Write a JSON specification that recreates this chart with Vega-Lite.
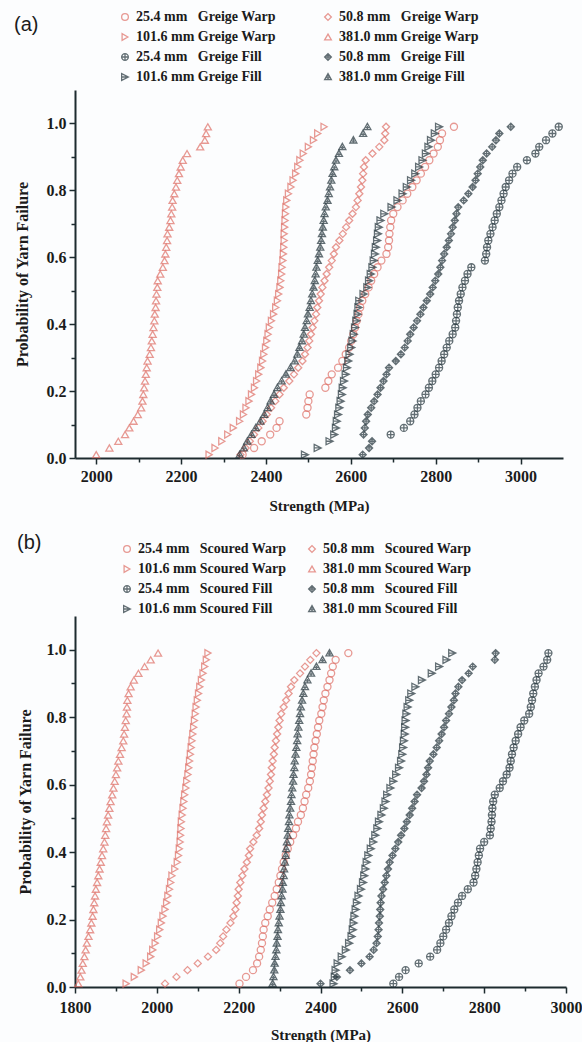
{
"$schema": "https://vega.github.io/schema/vega-lite/v6.json",
"background": "#fcfdfe",
"padding": {"left": 14, "top": 10, "right": 0, "bottom": 0},
"spacing": 20,
"resolve": {"scale": {"color": "independent", "shape": "independent"}, "legend": {"color": "independent", "shape": "independent"}},
"config": {
  "view": {"stroke": null},
  "axis": {"grid": false, "labelFlush": false, "domainColor": "#1d2b2f", "domainWidth": 2, "tickColor": "#1d2b2f", "tickWidth": 1.5, "labelFont": "Liberation Serif", "labelFontWeight": "bold", "labelFontSize": 16, "labelColor": "#1b1b1b", "titleFont": "Liberation Serif", "titleFontWeight": "bold", "titleFontSize": 15, "titleColor": "#1b1b1b"},
  "title": {"font": "Liberation Sans", "fontSize": 20, "fontWeight": "normal", "color": "#1b1b1b", "anchor": "start", "frame": "bounds"}
},
"datasets": {
"greige": [
{"s":"W381","mpa":2000,"p":0.01},{"s":"W381","mpa":2031,"p":0.03},{"s":"W381","mpa":2052,"p":0.05},{"s":"W381","mpa":2068,"p":0.07},{"s":"W381","mpa":2078,"p":0.09},{"s":"W381","mpa":2088,"p":0.11},{"s":"W381","mpa":2098,"p":0.13},{"s":"W381","mpa":2106,"p":0.15},{"s":"W381","mpa":2109,"p":0.17},{"s":"W381","mpa":2111,"p":0.19},{"s":"W381","mpa":2113,"p":0.21},{"s":"W381","mpa":2115,"p":0.23},{"s":"W381","mpa":2117,"p":0.25},{"s":"W381","mpa":2119,"p":0.27},{"s":"W381","mpa":2121,"p":0.29},{"s":"W381","mpa":2126,"p":0.31},{"s":"W381","mpa":2129,"p":0.33},{"s":"W381","mpa":2131,"p":0.35},{"s":"W381","mpa":2133,"p":0.37},{"s":"W381","mpa":2135,"p":0.39},{"s":"W381","mpa":2137,"p":0.41},{"s":"W381","mpa":2138,"p":0.43},{"s":"W381","mpa":2140,"p":0.45},{"s":"W381","mpa":2141,"p":0.47},{"s":"W381","mpa":2142,"p":0.49},{"s":"W381","mpa":2144,"p":0.51},{"s":"W381","mpa":2145,"p":0.53},{"s":"W381","mpa":2151,"p":0.55},{"s":"W381","mpa":2157,"p":0.57},{"s":"W381","mpa":2161,"p":0.59},{"s":"W381","mpa":2163,"p":0.61},{"s":"W381","mpa":2165,"p":0.63},{"s":"W381","mpa":2167,"p":0.65},{"s":"W381","mpa":2168,"p":0.67},{"s":"W381","mpa":2172,"p":0.69},{"s":"W381","mpa":2175,"p":0.71},{"s":"W381","mpa":2177,"p":0.73},{"s":"W381","mpa":2179,"p":0.75},{"s":"W381","mpa":2180,"p":0.77},{"s":"W381","mpa":2184,"p":0.79},{"s":"W381","mpa":2188,"p":0.81},{"s":"W381","mpa":2191,"p":0.83},{"s":"W381","mpa":2195,"p":0.85},{"s":"W381","mpa":2199,"p":0.87},{"s":"W381","mpa":2204,"p":0.89},{"s":"W381","mpa":2214,"p":0.91},{"s":"W381","mpa":2245,"p":0.93},{"s":"W381","mpa":2256,"p":0.95},{"s":"W381","mpa":2259,"p":0.97},{"s":"W381","mpa":2263,"p":0.99},
{"s":"W101","mpa":2266,"p":0.01},{"s":"W101","mpa":2280,"p":0.03},{"s":"W101","mpa":2296,"p":0.05},{"s":"W101","mpa":2310,"p":0.07},{"s":"W101","mpa":2323,"p":0.09},{"s":"W101","mpa":2338,"p":0.11},{"s":"W101","mpa":2347,"p":0.13},{"s":"W101","mpa":2353,"p":0.15},{"s":"W101","mpa":2360,"p":0.17},{"s":"W101","mpa":2366,"p":0.19},{"s":"W101","mpa":2373,"p":0.21},{"s":"W101","mpa":2378,"p":0.23},{"s":"W101","mpa":2383,"p":0.25},{"s":"W101","mpa":2388,"p":0.27},{"s":"W101","mpa":2392,"p":0.29},{"s":"W101","mpa":2395,"p":0.31},{"s":"W101","mpa":2399,"p":0.33},{"s":"W101","mpa":2402,"p":0.35},{"s":"W101","mpa":2405,"p":0.37},{"s":"W101","mpa":2408,"p":0.39},{"s":"W101","mpa":2413,"p":0.41},{"s":"W101","mpa":2418,"p":0.43},{"s":"W101","mpa":2423,"p":0.45},{"s":"W101","mpa":2427,"p":0.47},{"s":"W101","mpa":2430,"p":0.49},{"s":"W101","mpa":2433,"p":0.51},{"s":"W101","mpa":2435,"p":0.53},{"s":"W101","mpa":2437,"p":0.55},{"s":"W101","mpa":2438,"p":0.57},{"s":"W101","mpa":2440,"p":0.59},{"s":"W101","mpa":2441,"p":0.61},{"s":"W101","mpa":2442,"p":0.63},{"s":"W101","mpa":2443,"p":0.65},{"s":"W101","mpa":2443,"p":0.67},{"s":"W101","mpa":2444,"p":0.69},{"s":"W101","mpa":2445,"p":0.71},{"s":"W101","mpa":2446,"p":0.73},{"s":"W101","mpa":2447,"p":0.75},{"s":"W101","mpa":2449,"p":0.77},{"s":"W101","mpa":2453,"p":0.79},{"s":"W101","mpa":2459,"p":0.81},{"s":"W101","mpa":2464,"p":0.83},{"s":"W101","mpa":2470,"p":0.85},{"s":"W101","mpa":2475,"p":0.87},{"s":"W101","mpa":2480,"p":0.89},{"s":"W101","mpa":2488,"p":0.91},{"s":"W101","mpa":2500,"p":0.93},{"s":"W101","mpa":2512,"p":0.95},{"s":"W101","mpa":2522,"p":0.97},{"s":"W101","mpa":2537,"p":0.99},
{"s":"W50","mpa":2340,"p":0.01},{"s":"W50","mpa":2352,"p":0.03},{"s":"W50","mpa":2362,"p":0.05},{"s":"W50","mpa":2372,"p":0.07},{"s":"W50","mpa":2382,"p":0.09},{"s":"W50","mpa":2392,"p":0.11},{"s":"W50","mpa":2402,"p":0.13},{"s":"W50","mpa":2412,"p":0.15},{"s":"W50","mpa":2422,"p":0.17},{"s":"W50","mpa":2432,"p":0.19},{"s":"W50","mpa":2442,"p":0.21},{"s":"W50","mpa":2455,"p":0.23},{"s":"W50","mpa":2466,"p":0.25},{"s":"W50","mpa":2476,"p":0.27},{"s":"W50","mpa":2486,"p":0.29},{"s":"W50","mpa":2492,"p":0.31},{"s":"W50","mpa":2498,"p":0.33},{"s":"W50","mpa":2502,"p":0.35},{"s":"W50","mpa":2506,"p":0.37},{"s":"W50","mpa":2510,"p":0.39},{"s":"W50","mpa":2514,"p":0.41},{"s":"W50","mpa":2518,"p":0.43},{"s":"W50","mpa":2521,"p":0.45},{"s":"W50","mpa":2525,"p":0.47},{"s":"W50","mpa":2529,"p":0.49},{"s":"W50","mpa":2533,"p":0.51},{"s":"W50","mpa":2538,"p":0.53},{"s":"W50","mpa":2543,"p":0.55},{"s":"W50","mpa":2549,"p":0.57},{"s":"W50","mpa":2555,"p":0.59},{"s":"W50","mpa":2560,"p":0.61},{"s":"W50","mpa":2565,"p":0.63},{"s":"W50","mpa":2573,"p":0.65},{"s":"W50","mpa":2581,"p":0.67},{"s":"W50","mpa":2589,"p":0.69},{"s":"W50","mpa":2596,"p":0.71},{"s":"W50","mpa":2604,"p":0.73},{"s":"W50","mpa":2612,"p":0.75},{"s":"W50","mpa":2616,"p":0.77},{"s":"W50","mpa":2620,"p":0.79},{"s":"W50","mpa":2624,"p":0.81},{"s":"W50","mpa":2627,"p":0.83},{"s":"W50","mpa":2629,"p":0.85},{"s":"W50","mpa":2631,"p":0.87},{"s":"W50","mpa":2635,"p":0.89},{"s":"W50","mpa":2651,"p":0.91},{"s":"W50","mpa":2667,"p":0.93},{"s":"W50","mpa":2679,"p":0.95},{"s":"W50","mpa":2681,"p":0.97},{"s":"W50","mpa":2683,"p":0.99},
{"s":"W25","mpa":2345,"p":0.01},{"s":"W25","mpa":2372,"p":0.03},{"s":"W25","mpa":2390,"p":0.05},{"s":"W25","mpa":2410,"p":0.07},{"s":"W25","mpa":2425,"p":0.09},{"s":"W25","mpa":2432,"p":0.11},{"s":"W25","mpa":2495,"p":0.13},{"s":"W25","mpa":2498,"p":0.15},{"s":"W25","mpa":2500,"p":0.17},{"s":"W25","mpa":2503,"p":0.19},{"s":"W25","mpa":2540,"p":0.21},{"s":"W25","mpa":2547,"p":0.23},{"s":"W25","mpa":2555,"p":0.25},{"s":"W25","mpa":2570,"p":0.27},{"s":"W25","mpa":2580,"p":0.29},{"s":"W25","mpa":2588,"p":0.31},{"s":"W25","mpa":2596,"p":0.33},{"s":"W25","mpa":2601,"p":0.35},{"s":"W25","mpa":2606,"p":0.37},{"s":"W25","mpa":2610,"p":0.39},{"s":"W25","mpa":2614,"p":0.41},{"s":"W25","mpa":2618,"p":0.43},{"s":"W25","mpa":2622,"p":0.45},{"s":"W25","mpa":2627,"p":0.47},{"s":"W25","mpa":2634,"p":0.49},{"s":"W25","mpa":2642,"p":0.51},{"s":"W25","mpa":2648,"p":0.53},{"s":"W25","mpa":2655,"p":0.55},{"s":"W25","mpa":2663,"p":0.57},{"s":"W25","mpa":2672,"p":0.59},{"s":"W25","mpa":2684,"p":0.61},{"s":"W25","mpa":2688,"p":0.63},{"s":"W25","mpa":2690,"p":0.65},{"s":"W25","mpa":2691,"p":0.67},{"s":"W25","mpa":2693,"p":0.69},{"s":"W25","mpa":2695,"p":0.71},{"s":"W25","mpa":2700,"p":0.73},{"s":"W25","mpa":2710,"p":0.75},{"s":"W25","mpa":2722,"p":0.77},{"s":"W25","mpa":2733,"p":0.79},{"s":"W25","mpa":2745,"p":0.81},{"s":"W25","mpa":2755,"p":0.83},{"s":"W25","mpa":2765,"p":0.85},{"s":"W25","mpa":2775,"p":0.87},{"s":"W25","mpa":2785,"p":0.89},{"s":"W25","mpa":2795,"p":0.91},{"s":"W25","mpa":2805,"p":0.93},{"s":"W25","mpa":2810,"p":0.95},{"s":"W25","mpa":2815,"p":0.97},{"s":"W25","mpa":2843,"p":0.99},
{"s":"F381","mpa":2338,"p":0.01},{"s":"F381","mpa":2348,"p":0.03},{"s":"F381","mpa":2356,"p":0.05},{"s":"F381","mpa":2366,"p":0.07},{"s":"F381","mpa":2376,"p":0.09},{"s":"F381","mpa":2387,"p":0.11},{"s":"F381","mpa":2396,"p":0.13},{"s":"F381","mpa":2404,"p":0.15},{"s":"F381","mpa":2411,"p":0.17},{"s":"F381","mpa":2419,"p":0.19},{"s":"F381","mpa":2427,"p":0.21},{"s":"F381","mpa":2437,"p":0.23},{"s":"F381","mpa":2447,"p":0.25},{"s":"F381","mpa":2458,"p":0.27},{"s":"F381","mpa":2468,"p":0.29},{"s":"F381","mpa":2474,"p":0.31},{"s":"F381","mpa":2479,"p":0.33},{"s":"F381","mpa":2485,"p":0.35},{"s":"F381","mpa":2489,"p":0.37},{"s":"F381","mpa":2492,"p":0.39},{"s":"F381","mpa":2496,"p":0.41},{"s":"F381","mpa":2499,"p":0.43},{"s":"F381","mpa":2503,"p":0.45},{"s":"F381","mpa":2506,"p":0.47},{"s":"F381","mpa":2509,"p":0.49},{"s":"F381","mpa":2512,"p":0.51},{"s":"F381","mpa":2515,"p":0.53},{"s":"F381","mpa":2517,"p":0.55},{"s":"F381","mpa":2519,"p":0.57},{"s":"F381","mpa":2522,"p":0.59},{"s":"F381","mpa":2525,"p":0.61},{"s":"F381","mpa":2528,"p":0.63},{"s":"F381","mpa":2530,"p":0.65},{"s":"F381","mpa":2532,"p":0.67},{"s":"F381","mpa":2534,"p":0.69},{"s":"F381","mpa":2536,"p":0.71},{"s":"F381","mpa":2538,"p":0.73},{"s":"F381","mpa":2541,"p":0.75},{"s":"F381","mpa":2545,"p":0.77},{"s":"F381","mpa":2548,"p":0.79},{"s":"F381","mpa":2551,"p":0.81},{"s":"F381","mpa":2554,"p":0.83},{"s":"F381","mpa":2557,"p":0.85},{"s":"F381","mpa":2561,"p":0.87},{"s":"F381","mpa":2565,"p":0.89},{"s":"F381","mpa":2572,"p":0.91},{"s":"F381","mpa":2580,"p":0.93},{"s":"F381","mpa":2606,"p":0.95},{"s":"F381","mpa":2629,"p":0.97},{"s":"F381","mpa":2639,"p":0.99},
{"s":"F101","mpa":2492,"p":0.01},{"s":"F101","mpa":2522,"p":0.03},{"s":"F101","mpa":2550,"p":0.05},{"s":"F101","mpa":2561,"p":0.07},{"s":"F101","mpa":2565,"p":0.09},{"s":"F101","mpa":2567,"p":0.11},{"s":"F101","mpa":2570,"p":0.13},{"s":"F101","mpa":2573,"p":0.15},{"s":"F101","mpa":2576,"p":0.17},{"s":"F101","mpa":2579,"p":0.19},{"s":"F101","mpa":2581,"p":0.21},{"s":"F101","mpa":2584,"p":0.23},{"s":"F101","mpa":2588,"p":0.25},{"s":"F101","mpa":2591,"p":0.27},{"s":"F101","mpa":2594,"p":0.29},{"s":"F101","mpa":2597,"p":0.31},{"s":"F101","mpa":2601,"p":0.33},{"s":"F101","mpa":2604,"p":0.35},{"s":"F101","mpa":2607,"p":0.37},{"s":"F101","mpa":2610,"p":0.39},{"s":"F101","mpa":2613,"p":0.41},{"s":"F101","mpa":2616,"p":0.43},{"s":"F101","mpa":2618,"p":0.45},{"s":"F101","mpa":2620,"p":0.47},{"s":"F101","mpa":2630,"p":0.49},{"s":"F101","mpa":2639,"p":0.51},{"s":"F101","mpa":2643,"p":0.53},{"s":"F101","mpa":2647,"p":0.55},{"s":"F101","mpa":2651,"p":0.57},{"s":"F101","mpa":2654,"p":0.59},{"s":"F101","mpa":2657,"p":0.61},{"s":"F101","mpa":2659,"p":0.63},{"s":"F101","mpa":2662,"p":0.65},{"s":"F101","mpa":2664,"p":0.67},{"s":"F101","mpa":2666,"p":0.69},{"s":"F101","mpa":2670,"p":0.71},{"s":"F101","mpa":2679,"p":0.73},{"s":"F101","mpa":2696,"p":0.75},{"s":"F101","mpa":2710,"p":0.77},{"s":"F101","mpa":2722,"p":0.79},{"s":"F101","mpa":2732,"p":0.81},{"s":"F101","mpa":2742,"p":0.83},{"s":"F101","mpa":2752,"p":0.85},{"s":"F101","mpa":2761,"p":0.87},{"s":"F101","mpa":2769,"p":0.89},{"s":"F101","mpa":2777,"p":0.91},{"s":"F101","mpa":2783,"p":0.93},{"s":"F101","mpa":2789,"p":0.95},{"s":"F101","mpa":2798,"p":0.97},{"s":"F101","mpa":2808,"p":0.99},
{"s":"F50","mpa":2628,"p":0.01},{"s":"F50","mpa":2643,"p":0.03},{"s":"F50","mpa":2650,"p":0.05},{"s":"F50","mpa":2630,"p":0.07},{"s":"F50","mpa":2633,"p":0.09},{"s":"F50","mpa":2636,"p":0.11},{"s":"F50","mpa":2640,"p":0.13},{"s":"F50","mpa":2648,"p":0.15},{"s":"F50","mpa":2655,"p":0.17},{"s":"F50","mpa":2663,"p":0.19},{"s":"F50","mpa":2670,"p":0.21},{"s":"F50","mpa":2677,"p":0.23},{"s":"F50","mpa":2684,"p":0.25},{"s":"F50","mpa":2690,"p":0.27},{"s":"F50","mpa":2706,"p":0.29},{"s":"F50","mpa":2718,"p":0.31},{"s":"F50","mpa":2727,"p":0.33},{"s":"F50","mpa":2734,"p":0.35},{"s":"F50","mpa":2740,"p":0.37},{"s":"F50","mpa":2748,"p":0.39},{"s":"F50","mpa":2756,"p":0.41},{"s":"F50","mpa":2764,"p":0.43},{"s":"F50","mpa":2771,"p":0.45},{"s":"F50","mpa":2779,"p":0.47},{"s":"F50","mpa":2787,"p":0.49},{"s":"F50","mpa":2793,"p":0.51},{"s":"F50","mpa":2799,"p":0.53},{"s":"F50","mpa":2806,"p":0.55},{"s":"F50","mpa":2811,"p":0.57},{"s":"F50","mpa":2815,"p":0.59},{"s":"F50","mpa":2820,"p":0.61},{"s":"F50","mpa":2826,"p":0.63},{"s":"F50","mpa":2831,"p":0.65},{"s":"F50","mpa":2836,"p":0.67},{"s":"F50","mpa":2840,"p":0.69},{"s":"F50","mpa":2845,"p":0.71},{"s":"F50","mpa":2849,"p":0.73},{"s":"F50","mpa":2853,"p":0.75},{"s":"F50","mpa":2866,"p":0.77},{"s":"F50","mpa":2877,"p":0.79},{"s":"F50","mpa":2887,"p":0.81},{"s":"F50","mpa":2894,"p":0.83},{"s":"F50","mpa":2899,"p":0.85},{"s":"F50","mpa":2905,"p":0.87},{"s":"F50","mpa":2911,"p":0.89},{"s":"F50","mpa":2920,"p":0.91},{"s":"F50","mpa":2933,"p":0.93},{"s":"F50","mpa":2942,"p":0.95},{"s":"F50","mpa":2950,"p":0.97},{"s":"F50","mpa":2977,"p":0.99},
{"s":"F25","mpa":2694,"p":0.07},{"s":"F25","mpa":2725,"p":0.09},{"s":"F25","mpa":2740,"p":0.11},{"s":"F25","mpa":2750,"p":0.13},{"s":"F25","mpa":2757,"p":0.15},{"s":"F25","mpa":2765,"p":0.17},{"s":"F25","mpa":2776,"p":0.19},{"s":"F25","mpa":2784,"p":0.21},{"s":"F25","mpa":2792,"p":0.23},{"s":"F25","mpa":2800,"p":0.25},{"s":"F25","mpa":2808,"p":0.27},{"s":"F25","mpa":2814,"p":0.29},{"s":"F25","mpa":2820,"p":0.31},{"s":"F25","mpa":2826,"p":0.33},{"s":"F25","mpa":2832,"p":0.35},{"s":"F25","mpa":2840,"p":0.37},{"s":"F25","mpa":2846,"p":0.39},{"s":"F25","mpa":2848,"p":0.41},{"s":"F25","mpa":2850,"p":0.43},{"s":"F25","mpa":2852,"p":0.45},{"s":"F25","mpa":2855,"p":0.47},{"s":"F25","mpa":2859,"p":0.49},{"s":"F25","mpa":2863,"p":0.51},{"s":"F25","mpa":2869,"p":0.53},{"s":"F25","mpa":2875,"p":0.55},{"s":"F25","mpa":2884,"p":0.57},{"s":"F25","mpa":2916,"p":0.59},{"s":"F25","mpa":2919,"p":0.61},{"s":"F25","mpa":2921,"p":0.63},{"s":"F25","mpa":2924,"p":0.65},{"s":"F25","mpa":2929,"p":0.67},{"s":"F25","mpa":2934,"p":0.69},{"s":"F25","mpa":2939,"p":0.71},{"s":"F25","mpa":2944,"p":0.73},{"s":"F25","mpa":2950,"p":0.75},{"s":"F25","mpa":2955,"p":0.77},{"s":"F25","mpa":2960,"p":0.79},{"s":"F25","mpa":2965,"p":0.81},{"s":"F25","mpa":2973,"p":0.83},{"s":"F25","mpa":2981,"p":0.85},{"s":"F25","mpa":2992,"p":0.87},{"s":"F25","mpa":3015,"p":0.89},{"s":"F25","mpa":3035,"p":0.91},{"s":"F25","mpa":3044,"p":0.93},{"s":"F25","mpa":3060,"p":0.95},{"s":"F25","mpa":3075,"p":0.97},{"s":"F25","mpa":3090,"p":0.99}
],
"scoured": [
{"s":"W381","mpa":1808,"p":0.01},{"s":"W381","mpa":1813,"p":0.03},{"s":"W381","mpa":1816,"p":0.05},{"s":"W381","mpa":1819,"p":0.07},{"s":"W381","mpa":1823,"p":0.09},{"s":"W381","mpa":1826,"p":0.11},{"s":"W381","mpa":1829,"p":0.13},{"s":"W381","mpa":1833,"p":0.15},{"s":"W381","mpa":1837,"p":0.17},{"s":"W381","mpa":1840,"p":0.19},{"s":"W381","mpa":1843,"p":0.21},{"s":"W381","mpa":1845,"p":0.23},{"s":"W381","mpa":1847,"p":0.25},{"s":"W381","mpa":1849,"p":0.27},{"s":"W381","mpa":1851,"p":0.29},{"s":"W381","mpa":1854,"p":0.31},{"s":"W381","mpa":1857,"p":0.33},{"s":"W381","mpa":1860,"p":0.35},{"s":"W381","mpa":1863,"p":0.37},{"s":"W381","mpa":1866,"p":0.39},{"s":"W381","mpa":1869,"p":0.41},{"s":"W381","mpa":1872,"p":0.43},{"s":"W381","mpa":1874,"p":0.45},{"s":"W381","mpa":1876,"p":0.47},{"s":"W381","mpa":1878,"p":0.49},{"s":"W381","mpa":1881,"p":0.51},{"s":"W381","mpa":1884,"p":0.53},{"s":"W381","mpa":1887,"p":0.55},{"s":"W381","mpa":1891,"p":0.57},{"s":"W381","mpa":1894,"p":0.59},{"s":"W381","mpa":1897,"p":0.61},{"s":"W381","mpa":1900,"p":0.63},{"s":"W381","mpa":1903,"p":0.65},{"s":"W381","mpa":1906,"p":0.67},{"s":"W381","mpa":1910,"p":0.69},{"s":"W381","mpa":1914,"p":0.71},{"s":"W381","mpa":1918,"p":0.73},{"s":"W381","mpa":1920,"p":0.75},{"s":"W381","mpa":1922,"p":0.77},{"s":"W381","mpa":1924,"p":0.79},{"s":"W381","mpa":1926,"p":0.81},{"s":"W381","mpa":1927,"p":0.83},{"s":"W381","mpa":1928,"p":0.85},{"s":"W381","mpa":1931,"p":0.87},{"s":"W381","mpa":1936,"p":0.89},{"s":"W381","mpa":1944,"p":0.91},{"s":"W381","mpa":1955,"p":0.93},{"s":"W381","mpa":1970,"p":0.95},{"s":"W381","mpa":1985,"p":0.97},{"s":"W381","mpa":2003,"p":0.99},
{"s":"W101","mpa":1925,"p":0.01},{"s":"W101","mpa":1945,"p":0.03},{"s":"W101","mpa":1962,"p":0.05},{"s":"W101","mpa":1974,"p":0.07},{"s":"W101","mpa":1985,"p":0.09},{"s":"W101","mpa":1990,"p":0.11},{"s":"W101","mpa":1996,"p":0.13},{"s":"W101","mpa":2002,"p":0.15},{"s":"W101","mpa":2007,"p":0.17},{"s":"W101","mpa":2011,"p":0.19},{"s":"W101","mpa":2015,"p":0.21},{"s":"W101","mpa":2020,"p":0.23},{"s":"W101","mpa":2024,"p":0.25},{"s":"W101","mpa":2027,"p":0.27},{"s":"W101","mpa":2031,"p":0.29},{"s":"W101","mpa":2034,"p":0.31},{"s":"W101","mpa":2037,"p":0.33},{"s":"W101","mpa":2044,"p":0.35},{"s":"W101","mpa":2050,"p":0.37},{"s":"W101","mpa":2053,"p":0.39},{"s":"W101","mpa":2055,"p":0.41},{"s":"W101","mpa":2057,"p":0.43},{"s":"W101","mpa":2058,"p":0.45},{"s":"W101","mpa":2059,"p":0.47},{"s":"W101","mpa":2060,"p":0.49},{"s":"W101","mpa":2062,"p":0.51},{"s":"W101","mpa":2064,"p":0.53},{"s":"W101","mpa":2066,"p":0.55},{"s":"W101","mpa":2068,"p":0.57},{"s":"W101","mpa":2071,"p":0.59},{"s":"W101","mpa":2073,"p":0.61},{"s":"W101","mpa":2076,"p":0.63},{"s":"W101","mpa":2078,"p":0.65},{"s":"W101","mpa":2080,"p":0.67},{"s":"W101","mpa":2082,"p":0.69},{"s":"W101","mpa":2084,"p":0.71},{"s":"W101","mpa":2086,"p":0.73},{"s":"W101","mpa":2088,"p":0.75},{"s":"W101","mpa":2090,"p":0.77},{"s":"W101","mpa":2092,"p":0.79},{"s":"W101","mpa":2094,"p":0.81},{"s":"W101","mpa":2096,"p":0.83},{"s":"W101","mpa":2099,"p":0.85},{"s":"W101","mpa":2102,"p":0.87},{"s":"W101","mpa":2105,"p":0.89},{"s":"W101","mpa":2109,"p":0.91},{"s":"W101","mpa":2113,"p":0.93},{"s":"W101","mpa":2117,"p":0.95},{"s":"W101","mpa":2121,"p":0.97},{"s":"W101","mpa":2125,"p":0.99},
{"s":"W50","mpa":2020,"p":0.01},{"s":"W50","mpa":2048,"p":0.03},{"s":"W50","mpa":2075,"p":0.05},{"s":"W50","mpa":2100,"p":0.07},{"s":"W50","mpa":2125,"p":0.09},{"s":"W50","mpa":2145,"p":0.11},{"s":"W50","mpa":2155,"p":0.13},{"s":"W50","mpa":2162,"p":0.15},{"s":"W50","mpa":2170,"p":0.17},{"s":"W50","mpa":2180,"p":0.19},{"s":"W50","mpa":2187,"p":0.21},{"s":"W50","mpa":2192,"p":0.23},{"s":"W50","mpa":2195,"p":0.25},{"s":"W50","mpa":2198,"p":0.27},{"s":"W50","mpa":2200,"p":0.29},{"s":"W50","mpa":2204,"p":0.31},{"s":"W50","mpa":2209,"p":0.33},{"s":"W50","mpa":2214,"p":0.35},{"s":"W50","mpa":2220,"p":0.37},{"s":"W50","mpa":2225,"p":0.39},{"s":"W50","mpa":2228,"p":0.41},{"s":"W50","mpa":2236,"p":0.43},{"s":"W50","mpa":2244,"p":0.45},{"s":"W50","mpa":2250,"p":0.47},{"s":"W50","mpa":2254,"p":0.49},{"s":"W50","mpa":2257,"p":0.51},{"s":"W50","mpa":2261,"p":0.53},{"s":"W50","mpa":2265,"p":0.55},{"s":"W50","mpa":2269,"p":0.57},{"s":"W50","mpa":2273,"p":0.59},{"s":"W50","mpa":2276,"p":0.61},{"s":"W50","mpa":2279,"p":0.63},{"s":"W50","mpa":2281,"p":0.65},{"s":"W50","mpa":2283,"p":0.67},{"s":"W50","mpa":2286,"p":0.69},{"s":"W50","mpa":2288,"p":0.71},{"s":"W50","mpa":2291,"p":0.73},{"s":"W50","mpa":2294,"p":0.75},{"s":"W50","mpa":2297,"p":0.77},{"s":"W50","mpa":2300,"p":0.79},{"s":"W50","mpa":2304,"p":0.81},{"s":"W50","mpa":2310,"p":0.83},{"s":"W50","mpa":2316,"p":0.85},{"s":"W50","mpa":2322,"p":0.87},{"s":"W50","mpa":2328,"p":0.89},{"s":"W50","mpa":2336,"p":0.91},{"s":"W50","mpa":2350,"p":0.93},{"s":"W50","mpa":2362,"p":0.95},{"s":"W50","mpa":2375,"p":0.97},{"s":"W50","mpa":2390,"p":0.99},
{"s":"W25","mpa":2202,"p":0.01},{"s":"W25","mpa":2218,"p":0.03},{"s":"W25","mpa":2235,"p":0.05},{"s":"W25","mpa":2245,"p":0.07},{"s":"W25","mpa":2250,"p":0.09},{"s":"W25","mpa":2254,"p":0.11},{"s":"W25","mpa":2257,"p":0.13},{"s":"W25","mpa":2259,"p":0.15},{"s":"W25","mpa":2261,"p":0.17},{"s":"W25","mpa":2265,"p":0.19},{"s":"W25","mpa":2271,"p":0.21},{"s":"W25","mpa":2276,"p":0.23},{"s":"W25","mpa":2282,"p":0.25},{"s":"W25","mpa":2288,"p":0.27},{"s":"W25","mpa":2293,"p":0.29},{"s":"W25","mpa":2298,"p":0.31},{"s":"W25","mpa":2302,"p":0.33},{"s":"W25","mpa":2306,"p":0.35},{"s":"W25","mpa":2310,"p":0.37},{"s":"W25","mpa":2315,"p":0.39},{"s":"W25","mpa":2320,"p":0.41},{"s":"W25","mpa":2326,"p":0.43},{"s":"W25","mpa":2333,"p":0.45},{"s":"W25","mpa":2340,"p":0.47},{"s":"W25","mpa":2345,"p":0.49},{"s":"W25","mpa":2352,"p":0.51},{"s":"W25","mpa":2357,"p":0.53},{"s":"W25","mpa":2361,"p":0.55},{"s":"W25","mpa":2365,"p":0.57},{"s":"W25","mpa":2370,"p":0.59},{"s":"W25","mpa":2374,"p":0.61},{"s":"W25","mpa":2377,"p":0.63},{"s":"W25","mpa":2379,"p":0.65},{"s":"W25","mpa":2381,"p":0.67},{"s":"W25","mpa":2383,"p":0.69},{"s":"W25","mpa":2385,"p":0.71},{"s":"W25","mpa":2388,"p":0.73},{"s":"W25","mpa":2391,"p":0.75},{"s":"W25","mpa":2394,"p":0.77},{"s":"W25","mpa":2397,"p":0.79},{"s":"W25","mpa":2402,"p":0.81},{"s":"W25","mpa":2405,"p":0.83},{"s":"W25","mpa":2408,"p":0.85},{"s":"W25","mpa":2412,"p":0.87},{"s":"W25","mpa":2417,"p":0.89},{"s":"W25","mpa":2422,"p":0.91},{"s":"W25","mpa":2426,"p":0.93},{"s":"W25","mpa":2430,"p":0.95},{"s":"W25","mpa":2437,"p":0.97},{"s":"W25","mpa":2468,"p":0.99},
{"s":"F381","mpa":2283,"p":0.01},{"s":"F381","mpa":2285,"p":0.03},{"s":"F381","mpa":2287,"p":0.05},{"s":"F381","mpa":2288,"p":0.07},{"s":"F381","mpa":2290,"p":0.09},{"s":"F381","mpa":2292,"p":0.11},{"s":"F381","mpa":2293,"p":0.13},{"s":"F381","mpa":2295,"p":0.15},{"s":"F381","mpa":2296,"p":0.17},{"s":"F381","mpa":2298,"p":0.19},{"s":"F381","mpa":2300,"p":0.21},{"s":"F381","mpa":2302,"p":0.23},{"s":"F381","mpa":2303,"p":0.25},{"s":"F381","mpa":2305,"p":0.27},{"s":"F381","mpa":2307,"p":0.29},{"s":"F381","mpa":2308,"p":0.31},{"s":"F381","mpa":2310,"p":0.33},{"s":"F381","mpa":2311,"p":0.35},{"s":"F381","mpa":2313,"p":0.37},{"s":"F381","mpa":2315,"p":0.39},{"s":"F381","mpa":2316,"p":0.41},{"s":"F381","mpa":2318,"p":0.43},{"s":"F381","mpa":2320,"p":0.45},{"s":"F381","mpa":2321,"p":0.47},{"s":"F381","mpa":2323,"p":0.49},{"s":"F381","mpa":2324,"p":0.51},{"s":"F381","mpa":2326,"p":0.53},{"s":"F381","mpa":2328,"p":0.55},{"s":"F381","mpa":2329,"p":0.57},{"s":"F381","mpa":2331,"p":0.59},{"s":"F381","mpa":2333,"p":0.61},{"s":"F381","mpa":2334,"p":0.63},{"s":"F381","mpa":2336,"p":0.65},{"s":"F381","mpa":2337,"p":0.67},{"s":"F381","mpa":2339,"p":0.69},{"s":"F381","mpa":2341,"p":0.71},{"s":"F381","mpa":2343,"p":0.73},{"s":"F381","mpa":2344,"p":0.75},{"s":"F381","mpa":2346,"p":0.77},{"s":"F381","mpa":2348,"p":0.79},{"s":"F381","mpa":2350,"p":0.81},{"s":"F381","mpa":2352,"p":0.83},{"s":"F381","mpa":2355,"p":0.85},{"s":"F381","mpa":2358,"p":0.87},{"s":"F381","mpa":2362,"p":0.89},{"s":"F381","mpa":2368,"p":0.91},{"s":"F381","mpa":2377,"p":0.93},{"s":"F381","mpa":2390,"p":0.95},{"s":"F381","mpa":2405,"p":0.97},{"s":"F381","mpa":2422,"p":0.99},
{"s":"F101","mpa":2432,"p":0.01},{"s":"F101","mpa":2435,"p":0.03},{"s":"F101","mpa":2437,"p":0.05},{"s":"F101","mpa":2442,"p":0.07},{"s":"F101","mpa":2452,"p":0.09},{"s":"F101","mpa":2462,"p":0.11},{"s":"F101","mpa":2470,"p":0.13},{"s":"F101","mpa":2476,"p":0.15},{"s":"F101","mpa":2479,"p":0.17},{"s":"F101","mpa":2481,"p":0.19},{"s":"F101","mpa":2483,"p":0.21},{"s":"F101","mpa":2486,"p":0.23},{"s":"F101","mpa":2489,"p":0.25},{"s":"F101","mpa":2493,"p":0.27},{"s":"F101","mpa":2499,"p":0.29},{"s":"F101","mpa":2504,"p":0.31},{"s":"F101","mpa":2507,"p":0.33},{"s":"F101","mpa":2510,"p":0.35},{"s":"F101","mpa":2513,"p":0.37},{"s":"F101","mpa":2517,"p":0.39},{"s":"F101","mpa":2523,"p":0.41},{"s":"F101","mpa":2529,"p":0.43},{"s":"F101","mpa":2534,"p":0.45},{"s":"F101","mpa":2539,"p":0.47},{"s":"F101","mpa":2543,"p":0.49},{"s":"F101","mpa":2549,"p":0.51},{"s":"F101","mpa":2555,"p":0.53},{"s":"F101","mpa":2559,"p":0.55},{"s":"F101","mpa":2563,"p":0.57},{"s":"F101","mpa":2571,"p":0.59},{"s":"F101","mpa":2578,"p":0.61},{"s":"F101","mpa":2585,"p":0.63},{"s":"F101","mpa":2592,"p":0.65},{"s":"F101","mpa":2597,"p":0.67},{"s":"F101","mpa":2600,"p":0.69},{"s":"F101","mpa":2602,"p":0.71},{"s":"F101","mpa":2604,"p":0.73},{"s":"F101","mpa":2606,"p":0.75},{"s":"F101","mpa":2607,"p":0.77},{"s":"F101","mpa":2608,"p":0.79},{"s":"F101","mpa":2610,"p":0.81},{"s":"F101","mpa":2613,"p":0.83},{"s":"F101","mpa":2617,"p":0.85},{"s":"F101","mpa":2622,"p":0.87},{"s":"F101","mpa":2632,"p":0.89},{"s":"F101","mpa":2648,"p":0.91},{"s":"F101","mpa":2672,"p":0.93},{"s":"F101","mpa":2690,"p":0.95},{"s":"F101","mpa":2708,"p":0.97},{"s":"F101","mpa":2722,"p":0.99},
{"s":"F50","mpa":2400,"p":0.01},{"s":"F50","mpa":2440,"p":0.03},{"s":"F50","mpa":2472,"p":0.05},{"s":"F50","mpa":2500,"p":0.07},{"s":"F50","mpa":2520,"p":0.09},{"s":"F50","mpa":2530,"p":0.11},{"s":"F50","mpa":2537,"p":0.13},{"s":"F50","mpa":2540,"p":0.15},{"s":"F50","mpa":2542,"p":0.17},{"s":"F50","mpa":2543,"p":0.19},{"s":"F50","mpa":2545,"p":0.21},{"s":"F50","mpa":2546,"p":0.23},{"s":"F50","mpa":2547,"p":0.25},{"s":"F50","mpa":2549,"p":0.27},{"s":"F50","mpa":2553,"p":0.29},{"s":"F50","mpa":2557,"p":0.31},{"s":"F50","mpa":2561,"p":0.33},{"s":"F50","mpa":2565,"p":0.35},{"s":"F50","mpa":2569,"p":0.37},{"s":"F50","mpa":2576,"p":0.39},{"s":"F50","mpa":2583,"p":0.41},{"s":"F50","mpa":2590,"p":0.43},{"s":"F50","mpa":2597,"p":0.45},{"s":"F50","mpa":2605,"p":0.47},{"s":"F50","mpa":2611,"p":0.49},{"s":"F50","mpa":2618,"p":0.51},{"s":"F50","mpa":2624,"p":0.53},{"s":"F50","mpa":2630,"p":0.55},{"s":"F50","mpa":2636,"p":0.57},{"s":"F50","mpa":2647,"p":0.59},{"s":"F50","mpa":2653,"p":0.61},{"s":"F50","mpa":2659,"p":0.63},{"s":"F50","mpa":2663,"p":0.65},{"s":"F50","mpa":2667,"p":0.67},{"s":"F50","mpa":2676,"p":0.69},{"s":"F50","mpa":2684,"p":0.71},{"s":"F50","mpa":2690,"p":0.73},{"s":"F50","mpa":2696,"p":0.75},{"s":"F50","mpa":2702,"p":0.77},{"s":"F50","mpa":2707,"p":0.79},{"s":"F50","mpa":2714,"p":0.81},{"s":"F50","mpa":2720,"p":0.83},{"s":"F50","mpa":2726,"p":0.85},{"s":"F50","mpa":2730,"p":0.87},{"s":"F50","mpa":2737,"p":0.89},{"s":"F50","mpa":2746,"p":0.91},{"s":"F50","mpa":2762,"p":0.93},{"s":"F50","mpa":2772,"p":0.95},{"s":"F50","mpa":2826,"p":0.97},{"s":"F50","mpa":2828,"p":0.99},
{"s":"F25","mpa":2578,"p":0.01},{"s":"F25","mpa":2592,"p":0.03},{"s":"F25","mpa":2608,"p":0.05},{"s":"F25","mpa":2640,"p":0.07},{"s":"F25","mpa":2668,"p":0.09},{"s":"F25","mpa":2685,"p":0.11},{"s":"F25","mpa":2693,"p":0.13},{"s":"F25","mpa":2700,"p":0.15},{"s":"F25","mpa":2707,"p":0.17},{"s":"F25","mpa":2714,"p":0.19},{"s":"F25","mpa":2720,"p":0.21},{"s":"F25","mpa":2727,"p":0.23},{"s":"F25","mpa":2736,"p":0.25},{"s":"F25","mpa":2746,"p":0.27},{"s":"F25","mpa":2760,"p":0.29},{"s":"F25","mpa":2774,"p":0.31},{"s":"F25","mpa":2778,"p":0.33},{"s":"F25","mpa":2781,"p":0.35},{"s":"F25","mpa":2784,"p":0.37},{"s":"F25","mpa":2787,"p":0.39},{"s":"F25","mpa":2790,"p":0.41},{"s":"F25","mpa":2800,"p":0.43},{"s":"F25","mpa":2814,"p":0.45},{"s":"F25","mpa":2816,"p":0.47},{"s":"F25","mpa":2818,"p":0.49},{"s":"F25","mpa":2819,"p":0.51},{"s":"F25","mpa":2820,"p":0.53},{"s":"F25","mpa":2822,"p":0.55},{"s":"F25","mpa":2826,"p":0.57},{"s":"F25","mpa":2838,"p":0.59},{"s":"F25","mpa":2846,"p":0.61},{"s":"F25","mpa":2855,"p":0.63},{"s":"F25","mpa":2862,"p":0.65},{"s":"F25","mpa":2865,"p":0.67},{"s":"F25","mpa":2868,"p":0.69},{"s":"F25","mpa":2872,"p":0.71},{"s":"F25","mpa":2877,"p":0.73},{"s":"F25","mpa":2883,"p":0.75},{"s":"F25","mpa":2889,"p":0.77},{"s":"F25","mpa":2898,"p":0.79},{"s":"F25","mpa":2910,"p":0.81},{"s":"F25","mpa":2914,"p":0.83},{"s":"F25","mpa":2917,"p":0.85},{"s":"F25","mpa":2920,"p":0.87},{"s":"F25","mpa":2924,"p":0.89},{"s":"F25","mpa":2928,"p":0.91},{"s":"F25","mpa":2933,"p":0.93},{"s":"F25","mpa":2945,"p":0.95},{"s":"F25","mpa":2954,"p":0.97},{"s":"F25","mpa":2957,"p":0.99}
]
},
"vconcat": [
{
  "width": 488, "height": 368,
  "title": {"text": "(a)", "dy": 29, "dx": 0},
  "data": {"name": "greige"},
  "mark": {"type": "point", "filled": false, "size": 50, "strokeWidth": 1.3},
  "encoding": {
    "x": {"field": "mpa", "type": "quantitative", "scale": {"domain": [1950, 3100], "nice": false, "zero": false},
      "axis": {"title": "Strength (MPa)", "values": [2000,2100,2200,2300,2400,2500,2600,2700,2800,2900,3000], "labelExpr": "datum.value % 200 === 0 ? datum.label : ''", "format": "d", "labelFont": "Liberation Serif", "tickSize": {"condition": {"test": "datum.value % 200 === 0", "value": 6}, "value": 4}, "labelPadding": 4, "titlePadding": 14}},
    "y": {"field": "p", "type": "quantitative", "scale": {"domain": [0, 1.1], "nice": false},
      "axis": {"title": "Probability of Yarn Failure", "titleFontSize": 16, "labelFont": "Liberation Serif", "values": [0,0.1,0.2,0.3,0.4,0.5,0.6,0.7,0.8,0.9,1.0], "labelExpr": "round(datum.value*10) % 2 === 0 ? format(datum.value, '.1f') : ''", "tickSize": {"condition": {"test": "round(datum.value*10) % 2 === 0", "value": 6}, "value": 4}, "labelPadding": 3, "titlePadding": 16}},
    "color": {"field": "s", "type": "nominal", "scale": {"domain": ["W25","W101","F25","F101","W50","W381","F50","F381"], "range": ["#df6f66","#df6f66","#22333a","#22333a","#df6f66","#df6f66","#22333a","#22333a"]},
      "legend": {"orient": "none", "legendX": 43, "legendY": -80, "columns": 2, "columnPadding": 45, "rowPadding": 6, "symbolSize": 45, "symbolStrokeWidth": 1.3, "labelFont": "Liberation Serif", "labelFontWeight": "bold", "labelFontSize": 14, "labelColor": "#1b1b1b", "title": null,
        "labelExpr": "datum.label == 'W25' ? '25.4 mm\u00a0\u00a0\u00a0Greige Warp' : datum.label == 'W50' ? '50.8 mm\u00a0\u00a0\u00a0Greige Warp' : datum.label == 'W101' ? '101.6 mm Greige Warp' : datum.label == 'W381' ? '381.0 mm Greige Warp' : datum.label == 'F25' ? '25.4 mm\u00a0\u00a0\u00a0Greige Fill' : datum.label == 'F50' ? '50.8 mm\u00a0\u00a0\u00a0Greige Fill' : datum.label == 'F101' ? '101.6 mm Greige Fill' : '381.0 mm Greige Fill'"}},
    "shape": {"field": "s", "type": "nominal", "scale": {"domain": ["W25","W101","F25","F101","W50","W381","F50","F381"], "range": ["circle","triangle-right","M1,0A1,1,0,1,1,-1,0A1,1,0,1,1,1,0ZM-1,0L1,0M0,-1L0,1","M-1,-1L1,0L-1,1ZM-1,0L1,0","diamond","triangle-up","M-1,0L0,-1L1,0L0,1ZM-1,0L1,0M0,-1L0,1","M0,-1L1,0.8L-1,0.8ZM0,-0.3L0,0.8M-0.45,0.25L0.45,0.25"]},
      "legend": {"orient": "none", "legendX": 43, "legendY": -80, "columns": 2, "title": null}}
  }
},
{
  "width": 491, "height": 371,
  "title": {"text": "(b)", "dy": 15, "dx": 0},
  "data": {"name": "scoured"},
  "mark": {"type": "point", "filled": false, "size": 50, "strokeWidth": 1.3},
  "encoding": {
    "x": {"field": "mpa", "type": "quantitative", "scale": {"domain": [1800, 3000], "nice": false, "zero": false},
      "axis": {"title": "Strength (MPa)", "values": [1800,1900,2000,2100,2200,2300,2400,2500,2600,2700,2800,2900,3000], "labelExpr": "datum.value % 200 === 0 ? datum.label : ''", "format": "d", "labelFont": "Liberation Serif", "tickSize": {"condition": {"test": "datum.value % 200 === 0", "value": 6}, "value": 4}, "labelPadding": 6, "titlePadding": 12}},
    "y": {"field": "p", "type": "quantitative", "scale": {"domain": [0, 1.1], "nice": false},
      "axis": {"title": "Probability of Yarn Failure", "titleFontSize": 16, "labelFont": "Liberation Serif", "values": [0,0.1,0.2,0.3,0.4,0.5,0.6,0.7,0.8,0.9,1.0], "labelExpr": "round(datum.value*10) % 2 === 0 ? format(datum.value, '.1f') : ''", "tickSize": {"condition": {"test": "round(datum.value*10) % 2 === 0", "value": 6}, "value": 4}, "labelPadding": 3, "titlePadding": 13}},
    "color": {"field": "s", "type": "nominal", "scale": {"domain": ["W25","W101","F25","F101","W50","W381","F50","F381"], "range": ["#df6f66","#df6f66","#22333a","#22333a","#df6f66","#df6f66","#22333a","#22333a"]},
      "legend": {"orient": "none", "legendX": 45, "legendY": -74, "columns": 2, "columnPadding": 18, "rowPadding": 6, "symbolSize": 45, "symbolStrokeWidth": 1.3, "labelFont": "Liberation Serif", "labelFontWeight": "bold", "labelFontSize": 14, "labelColor": "#1b1b1b", "title": null,
        "labelExpr": "datum.label == 'W25' ? '25.4 mm\u00a0\u00a0\u00a0Scoured Warp' : datum.label == 'W50' ? '50.8 mm\u00a0\u00a0\u00a0Scoured Warp' : datum.label == 'W101' ? '101.6 mm Scoured Warp' : datum.label == 'W381' ? '381.0 mm Scoured Warp' : datum.label == 'F25' ? '25.4 mm\u00a0\u00a0\u00a0Scoured Fill' : datum.label == 'F50' ? '50.8 mm\u00a0\u00a0\u00a0Scoured Fill' : datum.label == 'F101' ? '101.6 mm Scoured Fill' : '381.0 mm Scoured Fill'"}},
    "shape": {"field": "s", "type": "nominal", "scale": {"domain": ["W25","W101","F25","F101","W50","W381","F50","F381"], "range": ["circle","triangle-right","M1,0A1,1,0,1,1,-1,0A1,1,0,1,1,1,0ZM-1,0L1,0M0,-1L0,1","M-1,-1L1,0L-1,1ZM-1,0L1,0","diamond","triangle-up","M-1,0L0,-1L1,0L0,1ZM-1,0L1,0M0,-1L0,1","M0,-1L1,0.8L-1,0.8ZM0,-0.3L0,0.8M-0.45,0.25L0.45,0.25"]},
      "legend": {"orient": "none", "legendX": 45, "legendY": -74, "columns": 2, "title": null}}
  }
}
]
}
